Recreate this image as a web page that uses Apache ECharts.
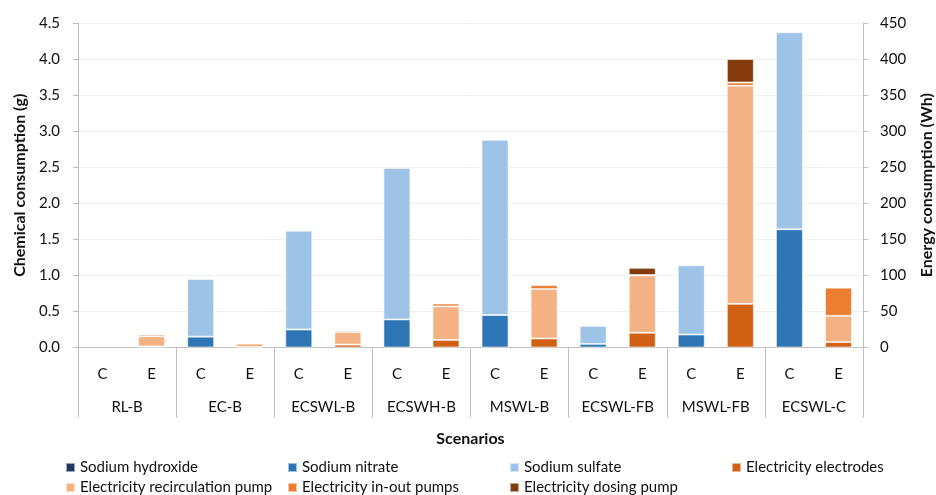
<!DOCTYPE html>
<html>
<head>
<meta charset="utf-8">
<script src="https://cdn.jsdelivr.net/npm/echarts@6/dist/echarts.min.js"></script>
<style>
  html, body { margin: 0; padding: 0; background: #fff; }
  #chart { width: 936px; height: 495px; }
</style>
</head>
<body>
<div id="chart"></div>
<script>
// ---- Data ----
const scenarios = ['RL-B', 'EC-B', 'ECSWL-B', 'ECSWH-B', 'MSWL-B', 'ECSWL-FB', 'MSWL-FB', 'ECSWL-C'];
const subCategories = ['C', 'E'];

// Chemical consumption (g) — "C" bars
const sodiumHydroxide = [0, 0, 0, 0, 0, 0, 0, 0];
const sodiumNitrate   = [0, 0.15, 0.25, 0.39, 0.45, 0.05, 0.18, 1.64];
const sodiumSulfate   = [0, 0.80, 1.37, 2.10, 2.43, 0.25, 0.96, 2.73];

// Energy consumption (Wh) — "E" bars
const elecElectrodes    = [1.5, 0.5, 4, 10.5, 12.5, 20.5, 60.5, 7.5];
const elecRecirculation = [14, 5, 17.5, 46.5, 68.5, 79.5, 302.5, 36.5];
const elecInOut         = [2.5, 1.5, 2, 4, 5.5, 0.5, 4.5, 39];
const elecDosing        = [0, 0, 0, 0, 0, 10, 32.5, 0];

const leftTicks = { min: 0, max: 4.5, interval: 0.5 };
const rightTicks = { min: 0, max: 450, interval: 50 };

// ---- Build ----
const FONT = 'Lato, "Open Sans", sans-serif';
const cats = [];
scenarios.forEach(() => subCategories.forEach(s => cats.push(s)));

function spread(values, slot) {
  const out = [];
  values.forEach(v => {
    for (let k = 0; k < subCategories.length; k++) {
      out.push(k === slot && v !== 0 ? v : null);
    }
  });
  return out;
}

const seriesDefs = [
  { name: 'Sodium hydroxide', values: sodiumHydroxide, slot: 0, axis: 0, color: '#1F3864' },
  { name: 'Sodium nitrate', values: sodiumNitrate, slot: 0, axis: 0, color: '#2E75B6' },
  { name: 'Sodium sulfate', values: sodiumSulfate, slot: 0, axis: 0, color: '#9DC3E6' },
  { name: 'Electricity electrodes', values: elecElectrodes, slot: 1, axis: 1, color: '#D06013' },
  { name: 'Electricity recirculation pump', values: elecRecirculation, slot: 1, axis: 1, color: '#F4B183' },
  { name: 'Electricity in-out pumps', values: elecInOut, slot: 1, axis: 1, color: '#ED7D31' },
  { name: 'Electricity dosing pump', values: elecDosing, slot: 1, axis: 1, color: '#843C0C' }
];

const series = seriesDefs.map(d => ({
  name: d.name,
  type: 'bar',
  stack: 'all',
  xAxisIndex: 0,
  yAxisIndex: d.axis,
  barWidth: 27,
  data: spread(d.values, d.slot),
  itemStyle: { color: d.color, borderColor: 'rgba(255,255,255,0.55)', borderWidth: 1 },
  emphasis: { disabled: true }
}));

const axisGray = '#BFBFBF';
const textColor = '#111';

function legendRow(names, top) {
  return {
    data: names,
    left: 65, top: top, width: 900, padding: 0,
    itemWidth: 9, itemHeight: 9, itemGap: 8,
    icon: 'rect',
    textStyle: { fontFamily: FONT, fontSize: 15, color: textColor, width: 199, lineHeight: 14, overflow: 'truncate' },
    selectedMode: false
  };
}
const names = seriesDefs.map(d => d.name);

const option = {
  animation: false,
  textStyle: { fontFamily: FONT },
  grid: { left: 78, right: 73, top: 23, bottom: 147.5, containLabel: false, outerBoundsMode: 'none' },
  legend: [legendRow(names.slice(0, 4), 460), legendRow(names.slice(4), 480)],
  xAxis: [
    {
      type: 'category', data: cats, position: 'bottom',
      axisLine: { show: true, lineStyle: { color: axisGray, width: 1 } },
      axisTick: { show: false },
      axisLabel: { interval: 0, margin: 19, fontSize: 15, color: textColor, fontFamily: FONT }
    },
    {
      type: 'category', data: scenarios, position: 'bottom',
      axisLine: { show: false },
      axisTick: { show: true, length: 70, interval: 0, lineStyle: { color: axisGray, width: 1 } },
      axisLabel: { interval: 0, margin: 52, fontSize: 15, color: textColor, fontFamily: FONT },
      name: 'Scenarios', nameLocation: 'middle', nameGap: 83,
      nameTextStyle: { fontSize: 16, fontWeight: 'bold', color: textColor, fontFamily: FONT }
    }
  ],
  yAxis: [
    {
      type: 'value', position: 'left',
      min: leftTicks.min, max: leftTicks.max, interval: leftTicks.interval,
      axisLine: { show: true, lineStyle: { color: axisGray } },
      axisTick: { show: true, length: 5, lineStyle: { color: axisGray } },
      axisLabel: { margin: 18, fontSize: 15, color: textColor, fontFamily: FONT, formatter: v => v.toFixed(1) },
      splitLine: { show: true, lineStyle: { color: '#F0F0F0' } },
      name: 'Chemical consumption (g)', nameLocation: 'middle', nameGap: 50, nameRotate: 90,
      nameTextStyle: { fontSize: 16, fontWeight: 'bold', color: textColor, fontFamily: FONT }
    },
    {
      type: 'value', position: 'right',
      min: rightTicks.min, max: rightTicks.max, interval: rightTicks.interval,
      axisLine: { show: true, lineStyle: { color: axisGray } },
      axisTick: { show: true, length: 5, lineStyle: { color: axisGray } },
      axisLabel: { margin: 17, fontSize: 15, color: textColor, fontFamily: FONT },
      splitLine: { show: false },
      name: 'Energy consumption (Wh)', nameLocation: 'middle', nameGap: 56, nameRotate: 90,
      nameTextStyle: { fontSize: 16, fontWeight: 'bold', color: textColor, fontFamily: FONT }
    }
  ],
  series: series
};

const chart = echarts.init(document.getElementById('chart'), null, { renderer: 'canvas' });
chart.setOption(option);
</script>
</body>
</html>
